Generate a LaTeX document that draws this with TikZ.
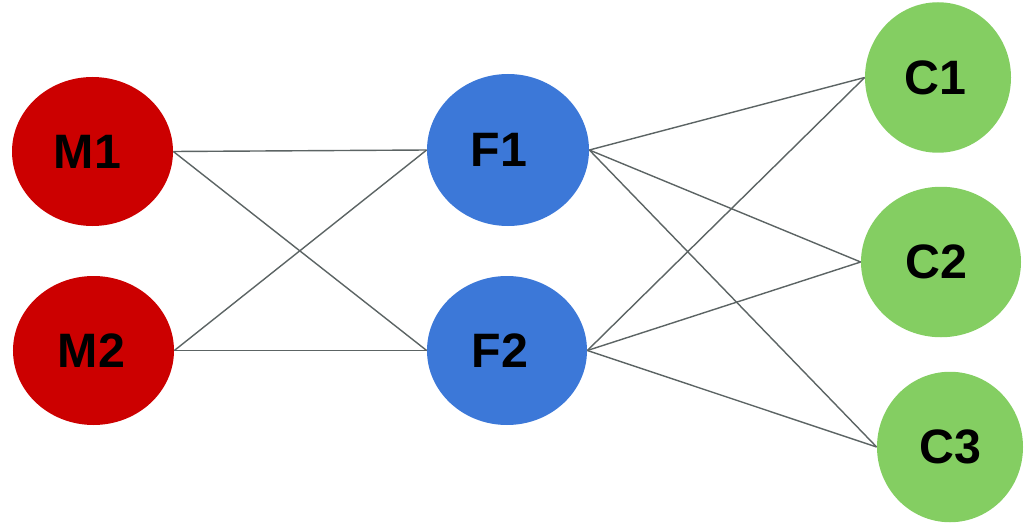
\documentclass[tikz,border=0pt]{standalone}
\usepackage{fontspec}
\setmainfont{Liberation Sans}
\usetikzlibrary{shapes.geometric}

\definecolor{mred}{HTML}{CC0000}
\definecolor{fblue}{HTML}{3C78D8}
\definecolor{cgreen}{HTML}{84CE62}
\definecolor{linkgray}{HTML}{5C6464}

\tikzset{bubble/.style={ellipse,inner sep=0pt,font=\fontsize{27.5}{30}\selectfont\bfseries}}

\begin{document}
\begin{tikzpicture}
            \useasboundingbox (0,0) rectangle (20.6,10.44);

            % trailing kerns push the labels a bit to the left
            \begin{scope}[every node/.style={bubble,fill=mred,minimum width=3.22cm,minimum height=2.98cm}]
                \node (m1) at (1.85,7.41) {M1\kern.2cm};
                \node (m2) at (1.87,3.43) {M2\kern.08cm};
            \end{scope}
            \begin{scope}[every node/.style={bubble,fill=fblue}]
                \node[minimum width=3.24cm,minimum height=3.04cm] (f1) at (10.16,7.44) {F1\kern.36cm};
                \node[minimum width=3.20cm,minimum height=2.98cm] (f2) at (10.14,3.43) {F2\kern.28cm};
            \end{scope}
            \begin{scope}[every node/.style={bubble,fill=cgreen,minimum height=3.01cm}]
                \node[minimum width=2.92cm] (c1) at (18.76,8.89) {C1\kern.12cm};
                \node[minimum width=3.20cm] (c2) at (18.82,5.20) {C2\kern.2cm};
                \node[minimum width=2.92cm] (c3) at (19.00,1.50) {C3};
            \end{scope}

            \begin{scope}[every edge/.style={draw=linkgray,line width=0.8pt}]
                \path
                    (m1.east) edge (f1.west)
                    (m1.east) edge (f2.west)
                    (m2.east) edge (f1.west)
                    (m2.east) edge (f2.west);
                \path
                    (f1.east) edge (c1.west)
                    (f1.east) edge (c2.west)
                    (f1.east) edge (c3.west)
                    (f2.east) edge (c1.west)
                    (f2.east) edge (c2.west)
                    (f2.east) edge (c3.west);
            \end{scope}
        \end{tikzpicture}
\end{document}
